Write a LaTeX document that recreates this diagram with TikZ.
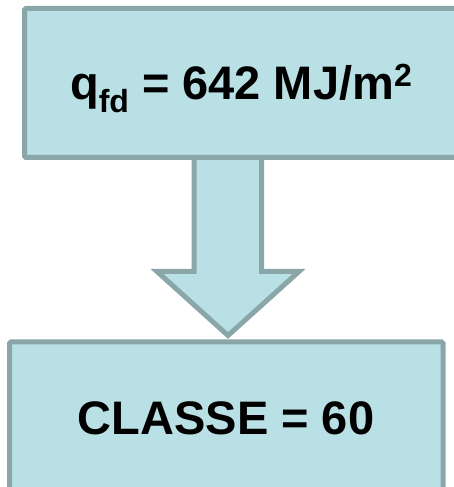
\documentclass[tikz,border=0pt]{standalone}
\usepackage{fontspec}
\setmainfont{Liberation Sans}
\usetikzlibrary{calc}
\definecolor{boxfill}{RGB}{185,224,228}
\definecolor{boxline}{RGB}{138,166,169}
\newcommand{\smallbold}[1]{{\fontsize{32}{36}\selectfont\bfseries #1}}
\begin{document}
\begin{tikzpicture}[x=1pt,y=1pt,
  boxsty/.style={draw=boxline,fill=boxfill,line width=5pt,rectangle,rounded corners=1.5pt,inner sep=0pt},
  arrowsty/.style={draw=boxline,fill=boxfill,line width=5pt,line join=miter},
  txt/.style={font=\fontsize{47}{56}\selectfont\bfseries,inner sep=0pt,anchor=base}]
\useasboundingbox (0,0) rectangle (454,487);
\begin{scope}
\clip (0,0) rectangle (454,487);
% arrow
\coordinate (s1) at (194,335);
\coordinate (s2) at (194,215.5);
\coordinate (h1) at (157,215.5);
\coordinate (tip) at (228,151.5);
\coordinate (h2) at (299,215.5);
\coordinate (s3) at (261.5,215.5);
\coordinate (s4) at (261.5,335);
\draw[arrowsty] (s1) -- (s2) -- (h1) -- (tip) -- (h2) -- (s3) -- (s4) -- cycle;
% boxes
\node[boxsty,minimum width=445.5pt,minimum height=149pt] (top) at (247.25,404) {};
\node[boxsty,minimum width=433.5pt,minimum height=165pt] (bot) at (226.25,62.5) {};
\end{scope}
\node[txt] (t1) at (241,387) {q\raisebox{-13pt}{\smallbold{fd}} = 642 MJ/m\raisebox{13pt}{\smallbold{2}}};
\node[txt] (t2) at (226,52) {CLASSE = 60};
\end{tikzpicture}
\end{document}
